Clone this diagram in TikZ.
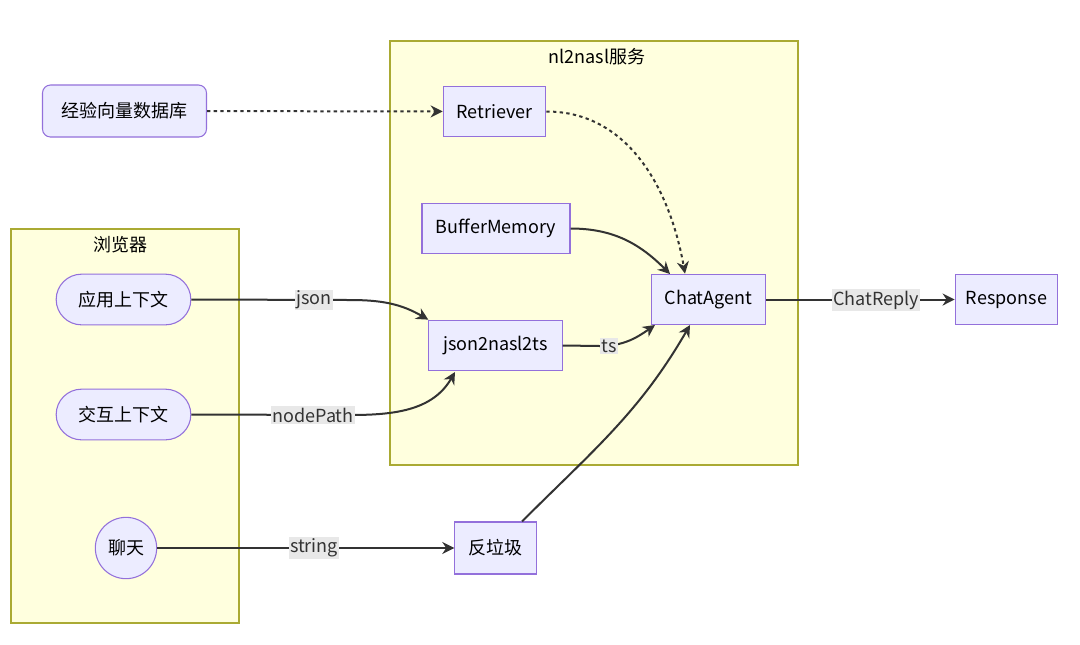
\documentclass[tikz,border=0pt]{standalone}
\usepackage{fontspec}
\setmainfont{Noto Sans CJK SC}
\usetikzlibrary{arrows.meta,shapes.misc}
\definecolor{nfill}{HTML}{ECECFF}
\definecolor{nstroke}{HTML}{9370DB}
\definecolor{cfill}{HTML}{FFFFDE}
\definecolor{cstroke}{HTML}{AAAA33}
\definecolor{edge}{HTML}{333333}
\definecolor{lbl}{HTML}{E8E8E8}
\begin{document}
\begin{tikzpicture}[x=0.75pt,y=-0.75pt,font=\fontsize{13.5}{15}\selectfont,
  box/.style={draw=nstroke,fill=nfill,line width=0.8pt,inner sep=0pt},
  sq/.style={box,rectangle},
  rnd/.style={box,rounded corners=6pt},
  stad/.style={box,rounded rectangle},
  circ/.style={box,circle},
  cl/.style={draw=cstroke,fill=cfill,line width=0.9pt},
  e/.style={draw=edge,line width=1.5pt,-{Stealth[length=9pt,width=9pt]}},
  d/.style={e,dash pattern=on 2.5pt off 2.5pt},
  lab/.style={fill=lbl,inner sep=1pt,text=edge}]
\useasboundingbox (0,0) rectangle (1080,644);
\fill[white] (0,0) rectangle (1080,644);
\draw[cl] (390,41) rectangle (798,465);
\node (t1) at (597,57) {nl2nasl服务};
\draw[cl] (11,229) rectangle (239,623);
\node (t2) at (120,245) {浏览器};
\node[rnd,minimum width=123pt,minimum height=39pt] (db) at (124.5,111) {经验向量数据库};
\node[sq,minimum width=77pt,minimum height=38pt] (ret) at (494.5,111.5) {Retriever};
\node[sq,minimum width=111pt,minimum height=38pt] (buf) at (496,228.5) {BufferMemory};
\node[sq,minimum width=86pt,minimum height=38pt] (ca) at (708.5,299.5) {ChatAgent};
\node[sq,minimum width=100pt,minimum height=38pt] (js) at (495.5,345.5) {json2nasl2ts};
\node[sq,minimum width=77pt,minimum height=38pt] (resp) at (1006.5,299.5) {Response};
\node[stad,minimum width=101pt,minimum height=38pt] (app) at (123.5,299.5) {应用上下文};
\node[stad,minimum width=101pt,minimum height=38pt] (inter) at (123.5,414.5) {交互上下文};
\node[circ,minimum size=46pt] (chat) at (126,548) {聊天};
\node[sq,minimum width=61pt,minimum height=39pt] (spam) at (495.5,548) {反垃圾};
\draw[d] (db) -- (ret);
\draw[d] (ret.east) to[out=0,in=100] (ca.north -| 685,0);
\draw[e] (buf.east) to[out=0,in=135] (670,274);
\draw[e] (app.east) -- (350,300) to[out=0,in=150] (js.north west);
\node[lab] (l1) at (314,300) {json};
\draw[e] (inter.east) -- (350,415) to[out=0,in=240] (455,372);
\node[lab] (l2) at (313,415) {nodePath};
\draw[e] (js.east) -- (600,346) to[out=0,in=215] (655,325);
\node[lab] (l3) at (609,346) {ts};
\draw[e] (spam.north -| 522,0) to[out=45,in=240] (690,325);
\draw[e] (chat) -- (spam);
\node[lab] (l4) at (314,548) {string};
\draw[e] (ca) -- (resp);
\node[lab] (l5) at (876,300) {ChatReply};
\end{tikzpicture}
\end{document}
